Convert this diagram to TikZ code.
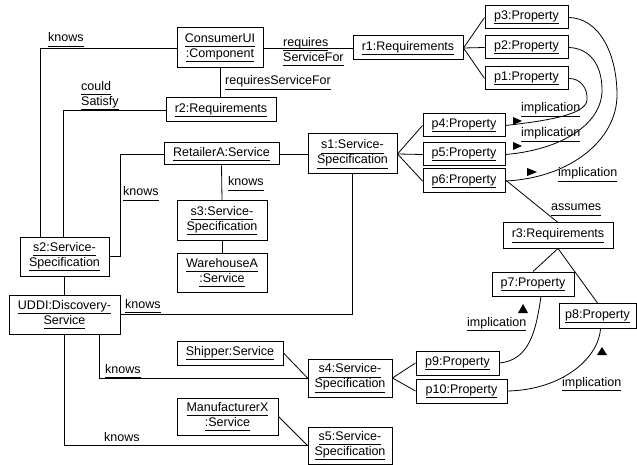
\documentclass[tikz,border=0pt]{standalone}
\usepackage{fontspec}
\setmainfont{Liberation Sans}
\newcommand{\ulx}[1]{\underline{#1\vphantom{y}}}
\begin{document}
\begin{tikzpicture}[x=1pt,y=-1pt,
  obj/.style={draw, line width=1pt, inner sep=0pt, align=center, font=\fontsize{12.5}{15}\selectfont},
  lbl/.style={inner sep=0pt, align=left, font=\fontsize{12.5}{15}\selectfont},
  conn/.style={line width=0.8pt},
  tri/.style={fill=black}]
\useasboundingbox (0,0) rectangle (637,465);
% objects
\node[obj, minimum width=86pt, minimum height=40pt] (cui) at (220,48) {\ulx{ConsumerUI}\\\ulx{:Component}};
\node[obj, minimum width=110pt, minimum height=24pt] (r1) at (408,48) {\ulx{r1:Requirements}};
\node[obj, minimum width=83pt, minimum height=23pt] (p3) at (526.5,17.5) {\ulx{p3:Property}};
\node[obj, minimum width=83pt, minimum height=23pt] (p2) at (526.5,47.5) {\ulx{p2:Property}};
\node[obj, minimum width=83pt, minimum height=23pt] (p1) at (526.5,78.5) {\ulx{p1:Property}};
\node[obj, minimum width=110pt, minimum height=24pt] (r2) at (221,110) {\ulx{r2:Requirements}};
\node[obj, minimum width=115pt, minimum height=22pt] (ret) at (221.5,154) {\ulx{RetailerA:Service}};
\node[obj, minimum width=89pt, minimum height=40pt] (s1) at (352.5,154) {\ulx{s1:Service-}\\\ulx{Specification}};
\node[obj, minimum width=82pt, minimum height=23pt] (p4) at (464,125.5) {\ulx{p4:Property}};
\node[obj, minimum width=82pt, minimum height=23pt] (p5) at (464,154.5) {\ulx{p5:Property}};
\node[obj, minimum width=82pt, minimum height=24pt] (p6) at (464,181) {\ulx{p6:Property}};
\node[obj, minimum width=90pt, minimum height=39pt] (s3) at (222,220.5) {\ulx{s3:Service-}\\\ulx{Specification}};
\node[obj, minimum width=90pt, minimum height=39pt] (wh) at (222,272.5) {\ulx{WarehouseA}\\\ulx{:Service}};
\node[obj, minimum width=89pt, minimum height=39pt] (s2) at (64.5,256.5) {\ulx{s2:Service-}\\\ulx{Specification}};
\node[obj, minimum width=111pt, minimum height=39pt] (uddi) at (64.5,314.5) {\ulx{UDDI:Discovery-}\\\ulx{Service}};
\node[obj, minimum width=110pt, minimum height=25pt] (r3) at (558,235.5) {\ulx{r3:Requirements}};
\node[obj, minimum width=82pt, minimum height=24pt] (p7) at (533,284) {\ulx{p7:Property}};
\node[obj, minimum width=77pt, minimum height=25pt] (p8) at (597.5,316) {\ulx{p8:Property}};
\node[obj, minimum width=83pt, minimum height=24pt] (p9) at (457.5,363) {\ulx{p9:Property}};
\node[obj, minimum width=91pt, minimum height=24pt] (p10) at (461.5,391) {\ulx{p10:Property}};
\node[obj, minimum width=106pt, minimum height=24pt] (ship) at (230,353) {\ulx{Shipper:Service}};
\node[obj, minimum width=84pt, minimum height=38pt] (s4) at (350,378) {\ulx{s4:Service-}\\\ulx{Specification}};
\node[obj, minimum width=101pt, minimum height=37pt] (mx) at (227.5,416.5) {\ulx{ManufacturerX}\\\ulx{:Service}};
\node[obj, minimum width=84pt, minimum height=37pt] (s5) at (350,445.5) {\ulx{s5:Service-}\\\ulx{Specification}};
% connectors
\draw[conn] (cui.west) -| ([xshift=-24.5pt]s2.north);
\draw[conn] (r2.west) -| ([xshift=-1.5pt]s2.north);
\draw[conn] (cui.east) -- (r1.west);
\draw[conn] (cui.south) -- (cui.south |- r2.north);
\draw[conn] (r1.east) -- (p3.west);
\draw[conn] (r1.east) -- (p2.west);
\draw[conn] (r1.east) -- (p1.west);
\draw[conn] (ret.east) -- (s1.west);
\draw[conn] (ret.west) -| ([xshift=11pt]s2.east) -- (s2.east);
\draw[conn] (ret.south) -- (s3.north);
\draw[conn] (s3.south) -- (wh.north);
\draw[conn] (s2.south) -- (uddi.north);
\draw[conn] (uddi.east) -| (s1.south);
\draw[conn] (s1.east) -- (p4.west);
\draw[conn] (s1.east) -- (p5.west);
\draw[conn] (s1.east) -- (p6.west);
\draw[conn] ([xshift=34.5pt]uddi.south) |- (s4.west);
\draw[conn] (uddi.south) |- (s5.west);
\draw[conn] (ship.east) -- (s4.west);
\draw[conn] (mx.east) -- (s5.west);
\draw[conn] (s4.east) -- (p9.west);
\draw[conn] (s4.east) -- (p10.west);
\draw[conn] ([yshift=1pt]p6.east) -- (r3.north);
\draw[conn] (r3.south) -- (p7.north);
\draw[conn] (r3.south) -- (p8.north);
% implication curves
\draw[conn] (p1.east) .. controls (580,78) and (588,88) .. (587,100) .. controls (586,115) and (545,121) .. (p4.east);
\draw[conn] (p2.east) .. controls (590,48) and (602,65) .. (602,90) .. controls (602,125) and (560,150) .. (p5.east);
\draw[conn] (p3.east) .. controls (600,18) and (617,55) .. (617,95) .. controls (617,140) and (570,178) .. (p6.east);
\draw[conn] ([xshift=8pt]p7.south) .. controls (536,330) and (530,360) .. (p9.east);
\draw[conn] ([xshift=3pt]p8.south) .. controls (598,360) and (560,390) .. (p10.east);
% direction triangles
\fill[tri] (513,117) -- (522,121) -- (513,125) -- cycle;
\fill[tri] (513,142) -- (522,146) -- (513,150) -- cycle;
\fill[tri] (527,168) -- (537,172) -- (527,176) -- cycle;
\fill[tri] (518,313) -- (523,304) -- (528,313) -- cycle;
\fill[tri] (597,355) -- (602,347) -- (607,355) -- cycle;
% labels
\node[lbl, anchor=base west] (k1) at (48,42) {\ulx{knows}};
\node[lbl, anchor=north west] (cs) at (81,81) {\ulx{could}\\\ulx{Satisfy}};
\node[lbl, anchor=north west] (rsf1) at (283,37) {\ulx{requires}\\\ulx{ServiceFor}};
\node[lbl, anchor=base west] (rsf2) at (225,85) {\ulx{requiresServiceFor}};
\node[lbl, anchor=base west] (k2) at (123,196) {\ulx{knows}};
\node[lbl, anchor=base west] (k3) at (228,186) {\ulx{knows}};
\node[lbl, anchor=base west] (k4) at (125,308) {\ulx{knows}};
\node[lbl, anchor=base west] (k5) at (105,373) {\ulx{knows}};
\node[lbl, anchor=base west] (k6) at (104,441) {\ulx{knows}};
\node[lbl, anchor=base west] (i1) at (521,112) {\ulx{implication}};
\node[lbl, anchor=base west] (i2) at (521,137) {\ulx{implication}};
\node[lbl, anchor=base west] (i3) at (558,177) {\ulx{implication}};
\node[lbl, anchor=base west] (i4) at (467,326) {\ulx{implication}};
\node[lbl, anchor=base west] (i5) at (562,386) {\ulx{implication}};
\node[lbl, anchor=base west] (as) at (551,211) {\ulx{assumes}};
\end{tikzpicture}
\end{document}
